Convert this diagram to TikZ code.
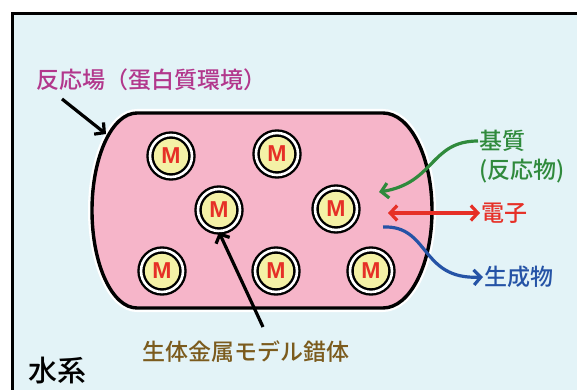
\documentclass[tikz,border=0pt]{standalone}
\usepackage{fontspec}
\setmainfont{Liberation Sans}
\newfontfamily\cjk{Noto Sans CJK JP Medium}
\newfontfamily\mfont{Liberation Sans}
\usetikzlibrary{arrows.meta}
\definecolor{bgc}{HTML}{E3F3F7}
\definecolor{pinkc}{HTML}{F6B5C9}
\definecolor{yelc}{HTML}{F4F1A6}
\definecolor{redc}{HTML}{E63027}
\definecolor{greenc}{HTML}{2F8A3C}
\definecolor{bluec}{HTML}{2553A6}
\definecolor{magc}{HTML}{B2378C}
\definecolor{brownc}{HTML}{7B5B1D}
\tikzset{
  >={Straight Barb[length=7pt,width=15pt,line width=3.2pt]},
  metal/.style={circle, minimum size=42pt, inner sep=0pt, fill=yelc, draw=black, line width=2.4pt,
    double=white, double distance=2.6pt, text=redc, font=\mfont\bfseries\fontsize{23}{23}\selectfont},
  lbl/.style={inner sep=1pt, anchor=west, font=\cjk\fontsize{23}{23}\selectfont},
  conn/.style={line width=3.2pt, ->},
}
\begin{document}
\begin{tikzpicture}[x=1pt,y=-1pt]
\useasboundingbox (0,0) rectangle (577,390);
\clip (0,0) rectangle (577,390);
\fill[white] (0,0) rectangle (577,390);
% frame
\fill[bgc] (12,14) rectangle (600,410);
\draw[line width=3pt] (12,410) -- (12,14) -- (600,14);
% capsule
\def\capsule{(137,113) -- (383,113) .. controls (410.1,113) and (432,156.7) .. (432,210.5)
  .. controls (432,264.3) and (410.1,308) .. (383,308) -- (137,308)
  .. controls (112.1,308) and (92,264.3) .. (92,210.5) .. controls (92,156.7) and (112.1,113) .. (137,113) -- cycle}
\draw[white, line width=8pt] \capsule;
\draw[fill=pinkc, line width=3.4pt] \capsule;
% metals
\node[metal] (m1) at (171,156) {M};
\node[metal] (m2) at (277,154) {M};
\node[metal] (m3) at (219,210) {M};
\node[metal] (m4) at (336,209) {M};
\node[metal] (m5) at (162,271) {M};
\node[metal] (m6) at (276,271) {M};
\node[metal] (m7) at (371,271) {M};
% labels
\node[lbl, text=magc] (field) at (35,80) {反応場（蛋白質環境）};
\node[lbl, text=greenc] (sub) at (478,141) {基質};
\node[lbl, text=greenc] (sub2) at (478,171) {(反応物)};
\node[lbl, text=redc] (ele) at (480,213) {電子};
\node[lbl, text=bluec] (prod) at (483,277) {生成物};
\node[lbl, text=brownc] (cplx) at (141,352) {生体金属モデル錯体};
\node[lbl, font=\cjk\fontsize{29}{29}\selectfont] (aq) at (27,371) {水系};
% connectors
\coordinate (capin) at (106,134);
\draw[conn] (62,99) -- (capin);
\draw[conn] (263,327) -- (m3.south);
\coordinate (gend) at (379,192);
\draw[conn, greenc] (sub.west) .. controls (430,141) and (435,183) .. (gend);
\coordinate (eend) at (388,213);
\draw[line width=3.2pt, redc, <->] (eend) -- (ele.west);
\coordinate (bstart) at (383,227);
\draw[conn, bluec] (bstart) .. controls (430,225) and (420,280) .. (prod.west);
\end{tikzpicture}
\end{document}
